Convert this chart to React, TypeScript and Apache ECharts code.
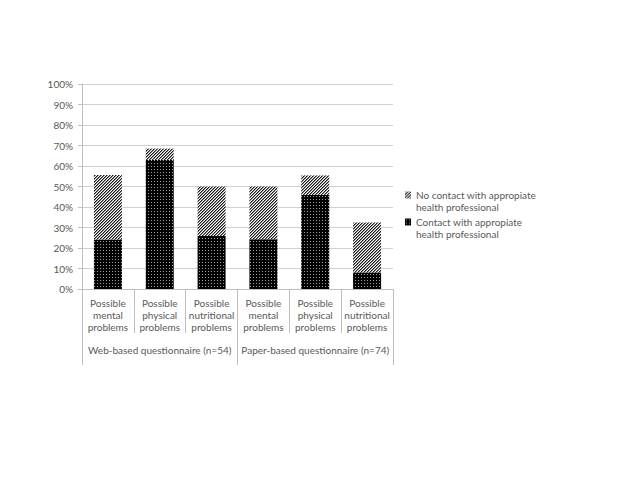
import React, { useEffect, useRef } from "react";
import * as echarts from "echarts";

const categories = [
  "Possible\nmental\nproblems",
  "Possible\nphysical\nproblems",
  "Possible\nnutritional\nproblems",
  "Possible\nmental\nproblems",
  "Possible\nphysical\nproblems",
  "Possible\nnutritional\nproblems",
];
const groups = ["Web-based questionnaire (n=54)", "Paper-based questionnaire (n=74)"];
const contact = [24.1, 63.0, 25.9, 24.3, 45.9, 8.1];
const noContact = [31.5, 5.5, 24.1, 25.7, 9.5, 24.3];
const seriesNames = [
  "No contact with appropiate\nhealth professional",
  "Contact with appropiate\nhealth professional",
];
const yMin = 0;
const yMax = 100;
const yInterval = 10;

function makeTile(size: number, fn: (x: number, y: number) => string) {
  const c = document.createElement("canvas");
  c.width = size;
  c.height = size;
  const ctx = c.getContext("2d")!;
  for (let y = 0; y < size; y++) {
    for (let x = 0; x < size; x++) {
      ctx.fillStyle = fn(x, y);
      ctx.fillRect(x, y, 1, 1);
    }
  }
  return c;
}

export default function App() {
  const ref = useRef<HTMLDivElement>(null);
  useEffect(() => {
    if (!ref.current) return;
    const chart = echarts.init(ref.current, null, { renderer: "svg" });
    const hatch = makeTile(3, (x, y) => {
      const k = (x + y) % 3;
      return k === 2 ? "#1a1a1a" : k === 0 ? "#8a8a8a" : "#ffffff";
    });
    const dots = makeTile(3, (x, y) => (x === 1 && y === 1 ? "#a0a0a0" : "#000000"));
    const hatchPattern: any = { image: hatch, repeat: "repeat", imageWidth: 3, imageHeight: 3 };
    const dotPattern: any = { image: dots, repeat: "repeat", imageWidth: 3, imageHeight: 3 };
    const font = "Lato";
    const textColor = "#595959";
    const legendBase = {
      orient: "vertical",
      left: 405,
      padding: 0,
      itemWidth: 6,
      itemHeight: 7,
      icon: "rect",
      formatter: (name: string) => "\n" + name,
      textStyle: {
        fontFamily: font,
        fontSize: 10,
        color: textColor,
        lineHeight: 12,
      },
    };
    chart.setOption({
      animation: false,
      grid: { left: 82, right: 247, top: 84, bottom: 191 },
      legend: [
        { ...legendBase, top: 177, data: [seriesNames[0]] },
        { ...legendBase, top: 204, data: [seriesNames[1]] },
      ],
      xAxis: [
        {
          type: "category",
          data: categories,
          position: "bottom",
          axisLine: { show: true, lineStyle: { color: "#bfbfbf", width: 1 } },
          axisTick: { show: true, length: 44, interval: 0, lineStyle: { color: "#bfbfbf" } },
          axisLabel: {
            interval: 0,
            margin: 8,
            fontFamily: font,
            fontSize: 10,
            lineHeight: 12,
            color: textColor,
          },
        },
        {
          type: "category",
          data: groups,
          position: "bottom",
          axisLine: { show: false },
          axisTick: { show: true, length: 76, interval: 0, lineStyle: { color: "#bfbfbf" } },
          axisLabel: {
            interval: 0,
            margin: 56,
            fontFamily: font,
            fontSize: 10,
            color: textColor,
          },
        },
      ],
      yAxis: {
        type: "value",
        min: yMin,
        max: yMax,
        interval: yInterval,
        axisLine: { show: true, lineStyle: { color: "#bfbfbf" } },
        axisTick: { show: true, length: 4, lineStyle: { color: "#bfbfbf" } },
        splitLine: { show: true, lineStyle: { color: "#d0d0d0" } },
        axisLabel: {
          formatter: "{value}%",
          margin: 9,
          fontFamily: font,
          fontSize: 10,
          color: textColor,
        },
      },
      series: [
        {
          name: seriesNames[1],
          type: "bar",
          stack: "total",
          barWidth: "54%",
          data: contact,
          itemStyle: { color: dotPattern },
        },
        {
          name: seriesNames[0],
          type: "bar",
          stack: "total",
          barWidth: "54%",
          data: noContact,
          itemStyle: { color: hatchPattern },
        },
      ],
    });
    return () => chart.dispose();
  }, []);
  return (
    <div
      ref={ref}
      style={{ position: "fixed", left: 0, top: 0, width: 640, height: 480, background: "#fff" }}
    />
  );
}
